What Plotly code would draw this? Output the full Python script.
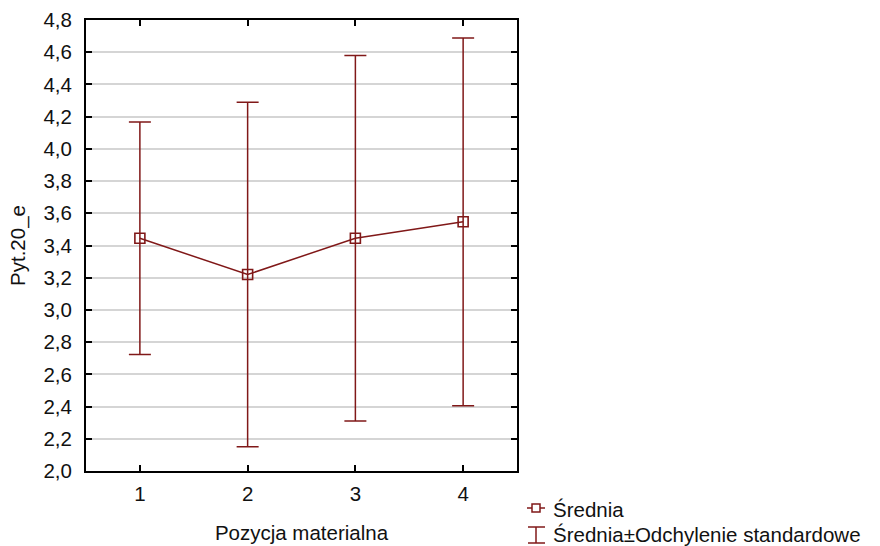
import plotly.graph_objects as go

# Mean and standard deviation of Pyt.20_e for each material position
positions = [1, 2, 3, 4]
means = [3.445, 3.22, 3.445, 3.547]
std_devs = [0.722, 1.07, 1.135, 1.142]
y_ticks = [2.0, 2.2, 2.4, 2.6, 2.8, 3.0, 3.2, 3.4, 3.6, 3.8, 4.0, 4.2, 4.4, 4.6, 4.8]

RED = "#801818"
FONT = "Liberation Sans, Arial, sans-serif"
FS = 20.5
TXT = "#111"
W, H = 880, 546
L, R, T, B = 86, 363, 20, 75
PW, PH = W - L - R, H - T - B


def px(x):
    return (x - L) / PW


def py(y):
    return (H - B - y) / PH


fig = go.Figure()
fig.add_trace(go.Scatter(
    x=positions,
    y=means,
    mode="lines+markers",
    line=dict(color=RED, width=1.5),
    marker=dict(symbol="square-open", size=10, color=RED, line=dict(width=1.6, color=RED)),
    error_y=dict(type="data", array=std_devs, visible=True, color=RED, thickness=1.5, width=11),
    showlegend=False,
))

# Legend drawn beside the x-axis title
lw = dict(color=RED, width=1.5)
shapes = [
    dict(type="line", xref="paper", yref="paper", x0=px(527), x1=px(545), y0=py(508), y1=py(508), line=lw),
    dict(type="rect", xref="paper", yref="paper", x0=px(532), x1=px(540), y0=py(512), y1=py(504),
         line=lw, fillcolor="white"),
    dict(type="line", xref="paper", yref="paper", x0=px(536), x1=px(536), y0=py(527), y1=py(543), line=lw),
    dict(type="line", xref="paper", yref="paper", x0=px(528), x1=px(545), y0=py(527), y1=py(527), line=lw),
    dict(type="line", xref="paper", yref="paper", x0=px(528), x1=px(545), y0=py(543), y1=py(543), line=lw),
]
annotations = [
    dict(text="Średnia", xref="paper", yref="paper", x=px(551), y=py(509), xanchor="left",
         yanchor="middle", showarrow=False, font=dict(family=FONT, size=FS, color=TXT)),
    dict(text="Średnia±Odchylenie standardowe", xref="paper", yref="paper", x=px(551), y=py(534),
         xanchor="left", yanchor="middle", showarrow=False, font=dict(family=FONT, size=FS, color=TXT)),
]

fig.update_layout(
    width=W, height=H,
    margin=dict(l=L, r=R, t=T, b=B, autoexpand=False),
    paper_bgcolor="white", plot_bgcolor="white",
    separators=",.",
    font=dict(family=FONT, size=FS, color=TXT),
    shapes=shapes,
    annotations=annotations,
)
fig.update_xaxes(
    range=[0.5, 4.5], tickvals=positions, ticktext=[str(p) for p in positions],
    tickfont=dict(family=FONT, size=FS, color=TXT),
    showline=True, linecolor="black", linewidth=2, mirror="ticks",
    ticks="inside", ticklen=6, tickwidth=1.5, tickcolor="black",
    showgrid=False, zeroline=False, automargin=False,
    ticklabelstandoff=3,
    title=dict(text="Pozycja materialna", standoff=22, font=dict(family=FONT, size=FS, color=TXT)),
)
fig.update_yaxes(
    range=[2.0, 4.8], tickvals=y_ticks, tickformat=".1f",
    tickfont=dict(family=FONT, size=FS, color=TXT),
    showline=True, linecolor="black", linewidth=2, mirror="ticks",
    ticks="inside", ticklen=6, tickwidth=1.5, tickcolor="black",
    showgrid=True, gridcolor="#d5d5d5", gridwidth=1.5, zeroline=False, automargin=False,
    ticklabelstandoff=8,
    title=dict(text="Pyt.20_e", standoff=12, font=dict(family=FONT, size=FS, color=TXT)),
)

fig.write_html("out.html")
